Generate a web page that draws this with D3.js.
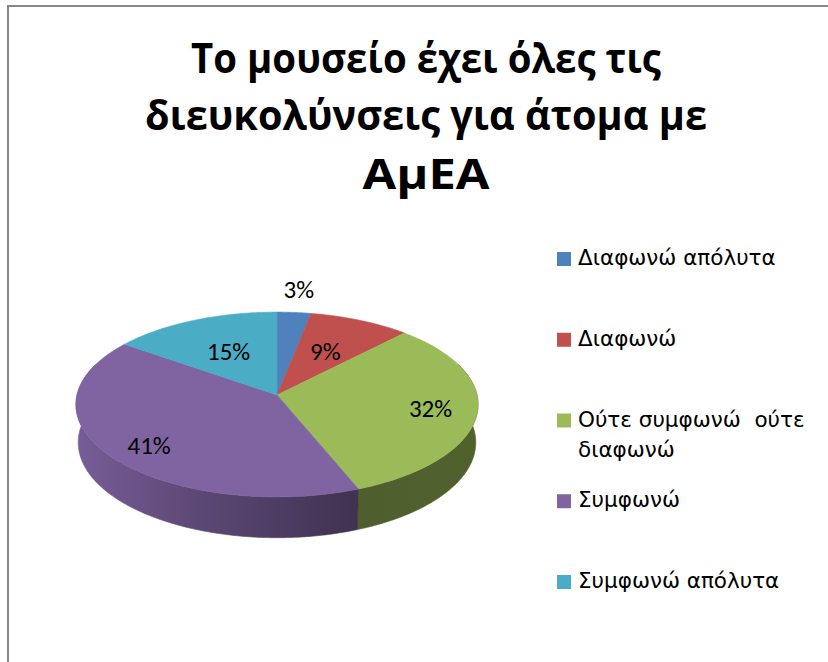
<!DOCTYPE html>
<html>
<head>
<meta charset="utf-8">
<script src="https://cdn.jsdelivr.net/npm/d3@7"></script>
<style>
  html, body { margin: 0; padding: 0; background: #ffffff; }
  svg { display: block; }
  text { white-space: pre; }
</style>
</head>
<body>
<svg id="chart" width="828" height="662"></svg>
<script>
// Survey answers and their shares (percent)
const categories = [
  "Διαφωνώ απόλυτα",
  "Διαφωνώ",
  "Ούτε συμφωνώ  ούτε διαφωνώ",
  "Συμφωνώ",
  "Συμφωνώ απόλυτα"
];
const values = [3, 9, 32, 41, 15];
const colors = ["#4F81BD", "#C0504D", "#9BBB59", "#8064A2", "#4BACC6"];
const titleLines = [
  "Το μουσείο έχει όλες τις",
  "διευκολύνσεις για άτομα με",
  "ΑμΕΑ"
];

const svg = d3.select("#chart");
const defs = svg.append("defs");

// Chart area frame
svg.append("rect")
  .attr("x", 8).attr("y", 6)
  .attr("width", 900).attr("height", 900)
  .attr("fill", "none")
  .attr("stroke", "#868686")
  .attr("stroke-width", 2);

// Title
const titleBaselines = [73, 130, 189];
const titleWidths = [470, 562, 127];
svg.append("g").selectAll("text")
  .data(titleLines)
  .join("text")
  .attr("x", 426)
  .attr("y", (d, i) => titleBaselines[i])
  .attr("text-anchor", "middle")
  .attr("font-family", "'Open Sans', 'Noto Sans', sans-serif")
  .attr("font-weight", "bold")
  .attr("font-size", 41)
  .attr("fill", "#000")
  .text(d => d)
  .each(function (d, i) {
    const w = this.getComputedTextLength();
    if (Math.abs(w - titleWidths[i]) > 2) {
      d3.select(this).attr("textLength", titleWidths[i]).attr("lengthAdjust", "spacingAndGlyphs");
    }
  });

// 3D pie: a disc viewed from above in perspective
const cx = 277, cy = 395;
const tilt = 27.2 * Math.PI / 180;
const sA = Math.sin(tilt), cA = Math.cos(tilt);
const dist = 8.65, focal = 1730;
const depth = 0.215;

function project(theta, r, yUp) {
  const X = r * Math.sin(theta);
  const Z = r * Math.cos(theta);
  const yc = yUp * cA + Z * sA;
  const zc = -yUp * sA + Z * cA + dist;
  return [cx + focal * X / zc, cy - focal * yc / zc];
}

const pie = d3.pie().sort(null).startAngle(0).endAngle(2 * Math.PI).value(d => d);
const arcs = pie(values);

function rimPoints(a0, a1, yUp) {
  const n = Math.max(2, Math.ceil((a1 - a0) / (Math.PI / 180)));
  return d3.range(n + 1).map(k => project(a0 + (a1 - a0) * k / n, 1, yUp));
}

// Side shading: lit from the left, darker towards the right front
const shade = [[0, 0.93], [0.3, 0.72], [0.7, 0.5], [1, 0.52]];
colors.forEach((col, i) => {
  const g = defs.append("linearGradient")
    .attr("id", "side" + i)
    .attr("gradientUnits", "userSpaceOnUse")
    .attr("x1", cx - 200).attr("x2", cx + 200)
    .attr("y1", 0).attr("y2", 0);
  const base = d3.rgb(col);
  shade.forEach(([o, f]) => {
    g.append("stop")
      .attr("offset", o)
      .attr("stop-color", d3.rgb(base.r * f, base.g * f, base.b * f).formatHex());
  });
});

const line = d3.line();

// Outer walls of the front half
const frontLo = Math.PI / 2 - 0.35, frontHi = 3 * Math.PI / 2 + 0.35;
const wallG = svg.append("g");
arcs.forEach((a, i) => {
  const a0 = Math.max(a.startAngle, frontLo);
  const a1 = Math.min(a.endAngle, frontHi);
  if (a1 <= a0) return;
  const top = rimPoints(a0, a1, 0);
  const bottom = rimPoints(a0, a1, -depth).reverse();
  wallG.append("path")
    .attr("d", line(top.concat(bottom)) + "Z")
    .attr("fill", `url(#side${i})`)
    .attr("stroke", `url(#side${i})`)
    .attr("stroke-width", 0.6);
});

// Top faces
const topG = svg.append("g");
arcs.forEach((a, i) => {
  const pts = [project(0, 0, 0)].concat(rimPoints(a.startAngle, a.endAngle, 0));
  topG.append("path")
    .attr("d", line(pts) + "Z")
    .attr("fill", colors[i])
    .attr("stroke", colors[i])
    .attr("stroke-width", 0.6)
    .attr("stroke-linejoin", "round");
});

// Percentage labels
const total = d3.sum(values);
const labelG = svg.append("g")
  .attr("font-family", "Carlito, Calibri, 'Open Sans', sans-serif")
  .attr("font-size", 25)
  .attr("fill", "#000");
arcs.forEach((a, i) => {
  const mid = (a.startAngle + a.endAngle) / 2;
  const share = values[i] / total;
  const r = share < 0.05 ? 1.32 : (share < 0.25 ? 0.56 : 0.77);
  const [x, y] = project(mid, r, 0);
  labelG.append("text")
    .attr("x", x)
    .attr("y", y + (share > 0.35 ? 5 : 0))
    .attr("text-anchor", "middle")
    .attr("dominant-baseline", "central")
    .text(Math.round(share * 100) + "%");
});

// Legend
const legendX = 557, legendTop = 265, legendStep = 80.75, legendWrap = 250;
const legendG = svg.append("g")
  .attr("font-family", "'DejaVu Sans', Verdana, sans-serif")
  .attr("font-size", 21.5)
  .attr("fill", "#000");
categories.forEach((name, i) => {
  const base = legendTop + i * legendStep;
  legendG.append("rect")
    .attr("x", legendX).attr("y", base - 13)
    .attr("width", 14).attr("height", 14)
    .attr("fill", colors[i]);
  const t = legendG.append("text").attr("x", legendX + 21).attr("y", base);
  // word wrap within the legend column
  const words = name.split(" ");
  let lines = [], cur = null;
  words.forEach(w => {
    const trial = cur === null ? w : cur + " " + w;
    t.text(trial);
    if (t.node().getComputedTextLength() > legendWrap && cur !== null && cur.trim() !== "") {
      lines.push(cur);
      cur = w;
    } else {
      cur = trial;
    }
  });
  lines.push(cur);
  t.text(null);
  lines.forEach((ln, k) => {
    t.append("tspan")
      .attr("x", legendX + 21)
      .attr("y", base + k * 30)
      .text(ln);
  });
});
</script>
</body>
</html>
